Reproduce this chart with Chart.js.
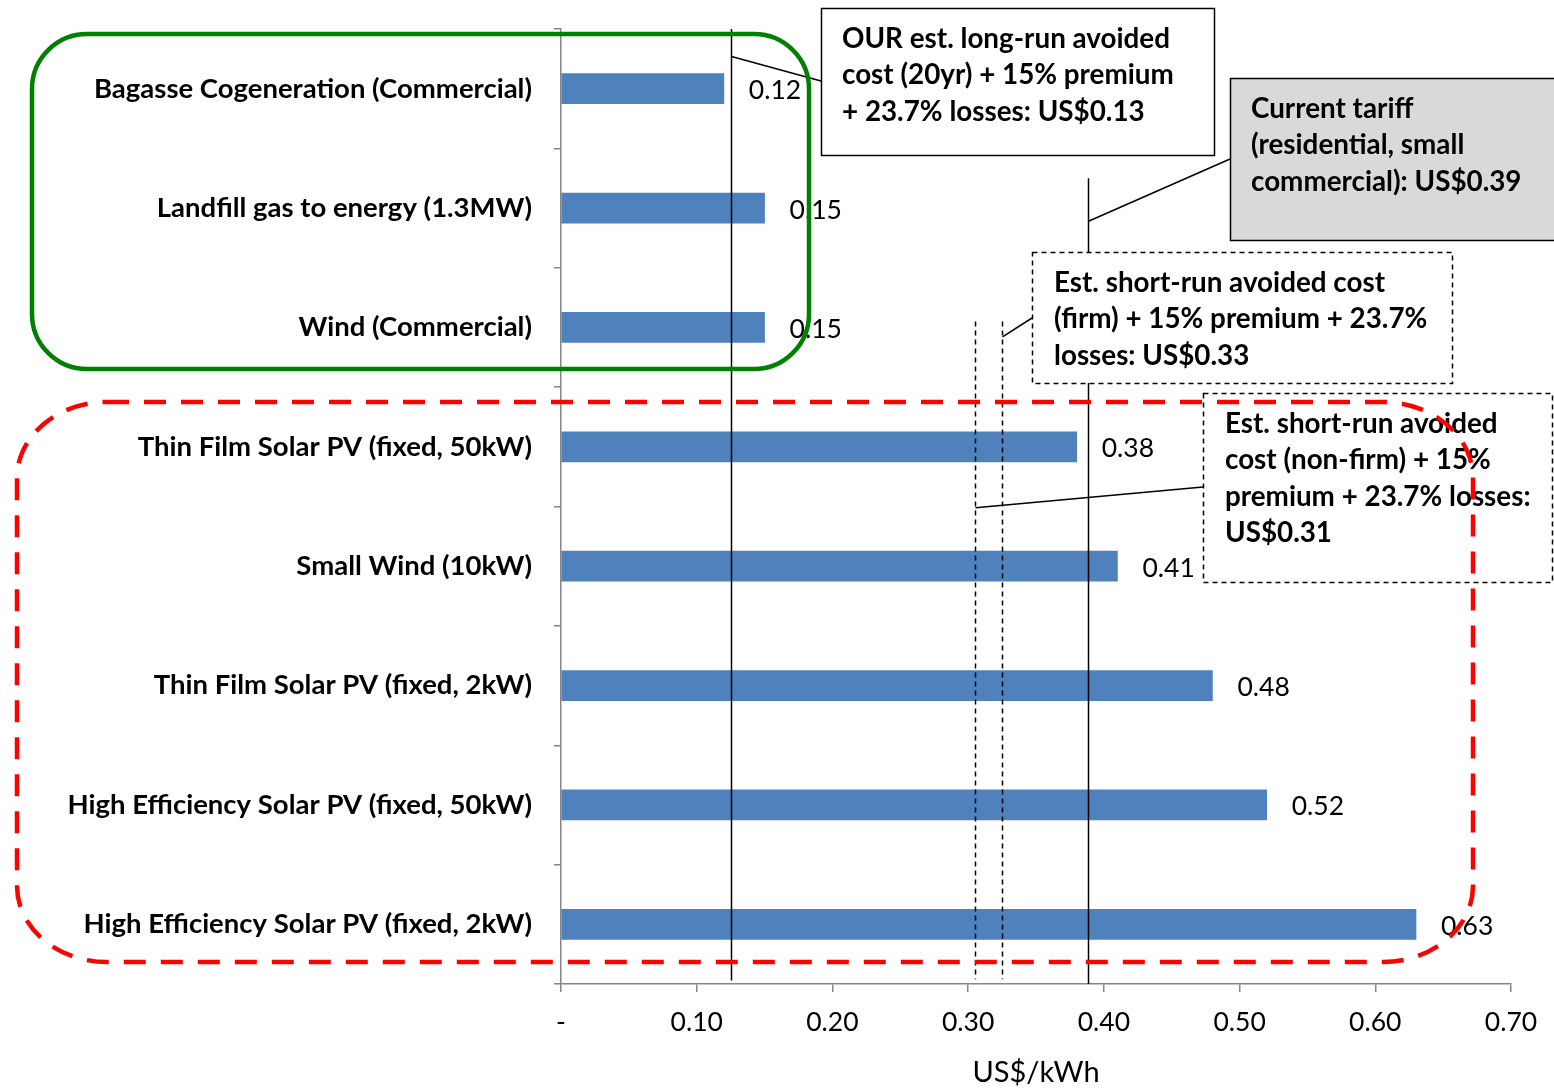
<!DOCTYPE html>
<html>
<head>
<meta charset="utf-8">
<title>Levelised cost of renewable options vs avoided cost</title>
<script src="https://cdn.jsdelivr.net/npm/chart.js@4/dist/chart.umd.min.js"></script>
<style>
  html, body { margin: 0; padding: 0; background: #fff; }
  #wrap { width: 1554px; height: 1090px; position: relative; }
</style>
</head>
<body>
<div id="wrap"><canvas id="c" width="1554" height="1090"></canvas></div>
<script>
// Technologies, top to bottom
const categories = [
  'Bagasse Cogeneration (Commercial)',
  'Landfill gas to energy (1.3MW)',
  'Wind (Commercial)',
  'Thin Film Solar PV (fixed, 50kW)',
  'Small Wind (10kW)',
  'Thin Film Solar PV (fixed, 2kW)',
  'High Efficiency Solar PV (fixed, 50kW)',
  'High Efficiency Solar PV (fixed, 2kW)'
];
// Levelised cost, US$/kWh
const costs = [0.12, 0.15, 0.15, 0.38, 0.41, 0.48, 0.52, 0.63];

// Benchmark levels, US$/kWh
const longRunAvoided = 0.125;
const currentTariff = 0.388;
const shortRunFirm = 0.325;
const shortRunNonFirm = 0.305;

const xTickLabels = ['-', '0.10', '0.20', '0.30', '0.40', '0.50', '0.60', '0.70'];

const FONT = 'Lato, Carlito, Calibri, "Open Sans", sans-serif';
const AXIS_GREY = '#868686';

// Benchmark lines: x from the value axis, vertical extent in category units
const refLines = [
  { value: longRunAvoided, from: -0.5, to: 7.47, dash: [] },
  { value: currentTariff, from: 0.75, to: 7.5, dash: [] },
  { value: shortRunNonFirm, from: 1.95, to: 7.46, dash: [5, 4] },
  { value: shortRunFirm, from: 1.95, to: 7.46, dash: [5, 4] }
];

// Callout boxes
const callouts = [
  { x: 821, y: 8, w: 393, h: 147, fill: '#ffffff', dash: [], tx: 842, ty: 38,
    lines: ['OUR est. long-run avoided', 'cost (20yr) + 15% premium', '+ 23.7% losses: US$0.13'],
    leader: { ref: 0, cat: -0.27, x2: 821, y2: 81 } },
  { x: 1230, y: 78, w: 340, h: 162, fill: '#d9d9d9', dash: [], tx: 1251, ty: 108,
    lines: ['Current tariff', '(residential, small', 'commercial): US$0.39'],
    leader: { ref: 1, cat: 1.11, x2: 1230, y2: 159 } },
  { x: 1032, y: 252, w: 420, h: 131, fill: '#ffffff', dash: [5, 4], tx: 1054, ty: 282,
    lines: ['Est. short-run avoided cost', '(firm) + 15% premium + 23.7%', 'losses: US$0.33'],
    leader: { ref: 3, cat: 2.08, x2: 1032, y2: 318 } },
  { x: 1203, y: 393, w: 349, h: 189, fill: '#ffffff', dash: [5, 4], tx: 1225, ty: 423,
    lines: ['Est. short-run avoided', 'cost (non-firm) + 15%', 'premium + 23.7% losses:', 'US$0.31'],
    leader: { ref: 2, cat: 3.51, x2: 1203, y2: 487 } }
];

function roundRectE(ctx, x, y, w, h, rx, ry) {
  ctx.beginPath();
  ctx.moveTo(x + rx, y);
  ctx.lineTo(x + w - rx, y);
  ctx.ellipse(x + w - rx, y + ry, rx, ry, 0, -Math.PI / 2, 0);
  ctx.lineTo(x + w, y + h - ry);
  ctx.ellipse(x + w - rx, y + h - ry, rx, ry, 0, 0, Math.PI / 2);
  ctx.lineTo(x + rx, y + h);
  ctx.ellipse(x + rx, y + h - ry, rx, ry, 0, Math.PI / 2, Math.PI);
  ctx.lineTo(x, y + ry);
  ctx.ellipse(x + rx, y + ry, rx, ry, 0, Math.PI, Math.PI * 1.5);
  ctx.closePath();
}

const overlay = {
  id: 'overlay',
  afterDatasetsDraw(chart) {
    const ctx = chart.ctx;
    const xs = chart.scales.x, ys = chart.scales.y;

    // value labels at the end of each bar
    const meta = chart.getDatasetMeta(0);
    ctx.save();
    ctx.font = '26.5px ' + FONT;
    ctx.fillStyle = '#000';
    ctx.textAlign = 'left';
    ctx.textBaseline = 'middle';
    meta.data.forEach((bar, i) => {
      ctx.fillText(costs[i].toFixed(2), bar.x + 25, bar.y + 2);
    });
    ctx.restore();

    // benchmark lines
    ctx.save();
    ctx.strokeStyle = '#000';
    ctx.lineWidth = 1.5;
    refLines.forEach(r => {
      const px = Math.round(xs.getPixelForValue(r.value)) + 0.5;
      ctx.setLineDash(r.dash);
      ctx.beginPath();
      ctx.moveTo(px, ys.getPixelForValue(r.from));
      ctx.lineTo(px, ys.getPixelForValue(r.to));
      ctx.stroke();
    });
    ctx.setLineDash([]);

    // callouts with leader lines
    callouts.forEach(c => {
      const r = refLines[c.leader.ref];
      const lx = Math.round(xs.getPixelForValue(r.value)) + 0.5;
      ctx.beginPath();
      ctx.moveTo(lx, ys.getPixelForValue(c.leader.cat));
      ctx.lineTo(c.leader.x2, c.leader.y2);
      ctx.strokeStyle = '#000';
      ctx.lineWidth = 1.5;
      ctx.stroke();

      ctx.fillStyle = c.fill;
      ctx.fillRect(c.x, c.y, c.w, c.h);
      ctx.setLineDash(c.dash);
      ctx.strokeRect(c.x + 0.5, c.y + 0.5, c.w, c.h);
      ctx.setLineDash([]);

      ctx.fillStyle = '#000';
      ctx.font = 'bold 27.8px ' + FONT;
      ctx.textAlign = 'left';
      ctx.textBaseline = 'middle';
      c.lines.forEach((t, i) => ctx.fillText(t, c.tx, c.ty + 1 + i * 36.5));
    });

    // group outlines
    ctx.strokeStyle = '#008000';
    ctx.lineWidth = 4.5;
    roundRectE(ctx, 32, 34, 777, 335, 55, 55);
    ctx.stroke();

    ctx.strokeStyle = '#ff0000';
    ctx.lineWidth = 4.5;
    ctx.setLineDash([22, 15]);
    roundRectE(ctx, 17, 402, 1456, 560, 90, 76);
    ctx.stroke();
    ctx.restore();
  }
};

new Chart(document.getElementById('c'), {
  type: 'bar',
  data: {
    labels: categories,
    datasets: [{
      data: costs,
      backgroundColor: '#4f81bd',
      borderWidth: 0,
      barThickness: 30
    }]
  },
  options: {
    indexAxis: 'y',
    responsive: false,
    animation: false,
    events: [],
    layout: { padding: { left: 0, right: 43, top: 29, bottom: 0 } },
    plugins: { legend: { display: false }, tooltip: { enabled: false } },
    scales: {
      x: {
        min: 0, max: 0.7,
        ticks: {
          stepSize: 0.1,
          color: '#000',
          font: { family: FONT, size: 26.5 },
          padding: 15,
          maxRotation: 0,
          callback: (v, i) => xTickLabels[i]
        },
        grid: { drawOnChartArea: false, drawTicks: true, tickLength: 8, color: AXIS_GREY, lineWidth: 1.5 },
        border: { color: AXIS_GREY, width: 1.5 },
        title: {
          display: true, text: 'US$/kWh', color: '#000',
          font: { family: FONT, size: 29 }, padding: { top: 0, bottom: 0 }
        },
        afterFit: s => { s.height = 106; s.paddingLeft = 0; s.paddingRight = 0; }
      },
      y: {
        ticks: {
          color: '#000',
          font: { family: FONT, size: 27.5, weight: 'bold' },
          padding: 22
        },
        grid: { drawOnChartArea: false, drawTicks: true, tickLength: 7, color: AXIS_GREY, lineWidth: 1.5 },
        border: { color: AXIS_GREY, width: 1.5 },
        afterFit: s => { s.width = 561; s.paddingTop = 0; s.paddingBottom = 0; }
      }
    }
  },
  plugins: [overlay]
});
</script>
</body>
</html>
